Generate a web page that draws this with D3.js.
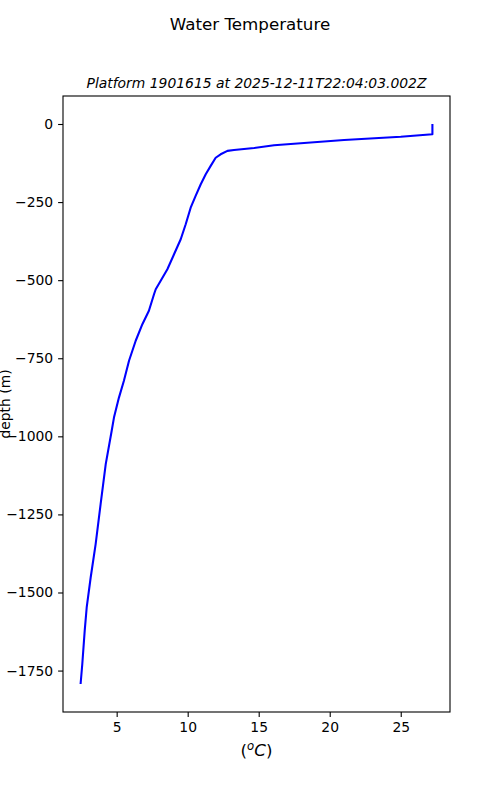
<!DOCTYPE html>
<html>
<head>
<meta charset="utf-8">
<script src="https://cdn.jsdelivr.net/npm/d3@7"></script>
<style>
  body { margin: 0; background: #fff; }
  text { font-family: "DejaVu Sans", sans-serif; fill: #000; }
</style>
</head>
<body>
<script>
// profile data
var temperature = [27.23, 27.23, 25.0, 21.01, 16.08, 14.67, 13.26, 12.80, 12.32, 11.97, 11.62, 11.27,
  10.92, 10.56, 10.21, 9.86, 9.51, 9.04, 8.57, 8.10, 7.75, 7.63, 7.27, 6.81, 6.34, 5.87,
  5.51, 5.16, 4.81, 4.65, 4.23, 3.87, 3.52, 3.17, 2.89, 2.75, 2.58, 2.46];
var depth = [0, -33, -41, -51, -68, -77, -83, -86, -97, -108, -134, -161,
  -193, -230, -268, -321, -369, -417, -465, -502, -529, -545, -598, -641, -694, -758,
  -822, -876, -940, -982, -1089, -1217, -1345, -1452, -1548, -1622, -1729, -1793];
var xTicks = [5, 10, 15, 20, 25];
var yTicks = [0, -250, -500, -750, -1000, -1250, -1500, -1750];

var W = 500, H = 800;
var mLeft = 63, mRight = 450, mTop = 96, mBottom = 712; // axes box

var svg = d3.select("body").append("svg")
  .attr("width", W)
  .attr("height", H);

// matplotlib style 5% margins
var xmin = d3.min(temperature), xmax = d3.max(temperature);
var ymin = d3.min(depth), ymax = d3.max(depth);
var dx = (xmax - xmin) * 0.05, dy = (ymax - ymin) * 0.05;

var x = d3.scaleLinear().domain([xmin - dx, xmax + dx]).range([mLeft, mRight]);
var y = d3.scaleLinear().domain([ymin - dy, ymax + dy]).range([mBottom, mTop]);

var fmt = function (d) { return String(d).replace("-", "\u2212"); };

var xAxis = svg.append("g")
  .attr("transform", "translate(0," + mBottom + ")")
  .call(d3.axisBottom(x).tickValues(xTicks).tickSize(4.9).tickPadding(4.9).tickFormat(fmt));
var yAxis = svg.append("g")
  .attr("transform", "translate(" + mLeft + ",0)")
  .call(d3.axisLeft(y).tickValues(yTicks).tickSize(4.9).tickPadding(4.9).tickFormat(fmt));

[xAxis, yAxis].forEach(function (g) {
  g.select(".domain").remove();
  g.selectAll(".tick line").attr("stroke", "#000").attr("stroke-width", 1.1);
  g.selectAll(".tick text").attr("font-size", "13.9px").attr("font-family", "DejaVu Sans");
});

// frame
svg.append("rect")
  .attr("x", mLeft).attr("y", mTop)
  .attr("width", mRight - mLeft).attr("height", mBottom - mTop)
  .attr("fill", "none")
  .attr("stroke", "#000")
  .attr("stroke-width", 1.1);

var line = d3.line()
  .x(function (d, i) { return x(temperature[i]); })
  .y(function (d, i) { return y(depth[i]); });

svg.append("path")
  .datum(depth)
  .attr("d", line)
  .attr("fill", "none")
  .attr("stroke", "#0000ff")
  .attr("stroke-width", 2.08)
  .attr("stroke-linejoin", "round");

// titles
svg.append("text")
  .attr("x", W / 2).attr("y", 30)
  .attr("text-anchor", "middle")
  .attr("font-size", "16.7px")
  .text("Water Temperature");

svg.append("text")
  .attr("x", (mLeft + mRight) / 2).attr("y", 88)
  .attr("text-anchor", "middle")
  .attr("font-size", "13.9px")
  .attr("font-style", "italic")
  .text("Platform 1901615 at 2025-12-11T22:04:03.002Z");

var xl = svg.append("text")
  .attr("x", (mLeft + mRight) / 2).attr("y", 756)
  .attr("text-anchor", "middle")
  .attr("font-size", "16.7px");
xl.append("tspan").text("(");
xl.append("tspan").attr("font-style", "italic").attr("font-size", "11.7px").attr("dy", -6).text("o");
xl.append("tspan").attr("font-style", "italic").attr("dy", 6).text("C");
xl.append("tspan").text(")");

svg.append("text")
  .attr("transform", "translate(10," + (mTop + mBottom) / 2 + ") rotate(-90)")
  .attr("text-anchor", "middle")
  .attr("font-size", "13.9px")
  .text("depth (m)");
</script>
</body>
</html>
